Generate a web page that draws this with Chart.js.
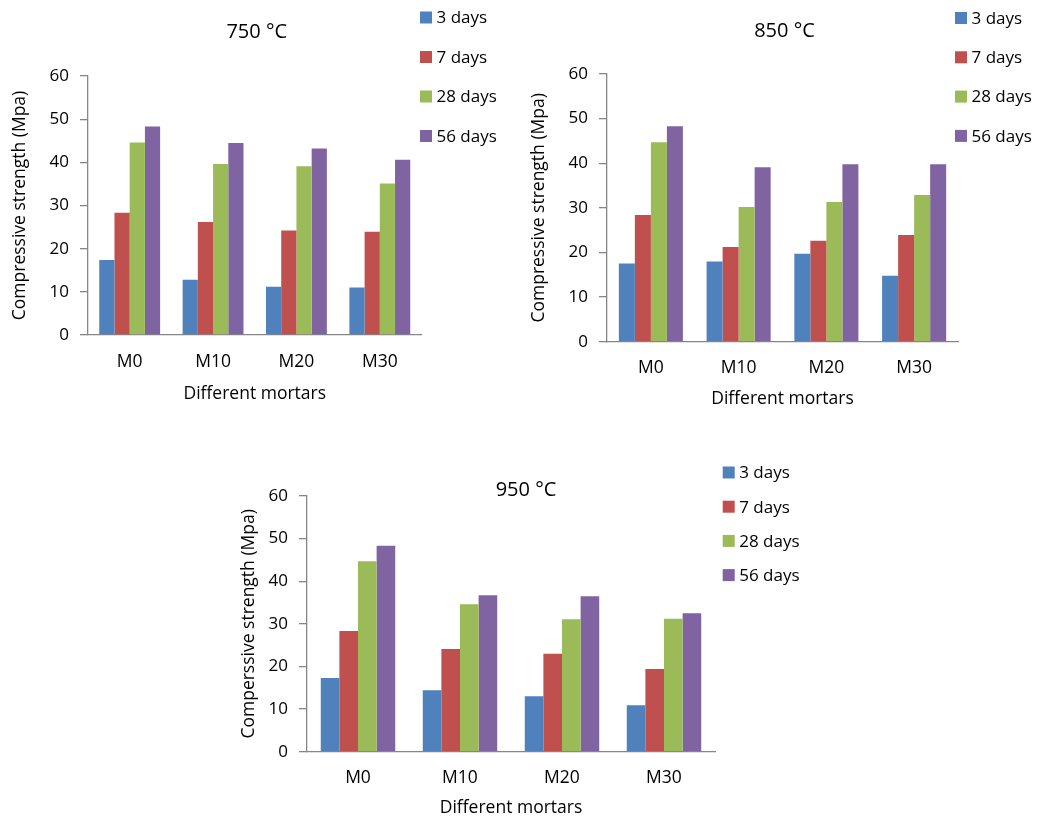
<!DOCTYPE html>
<html>
<head>
<meta charset="utf-8">
<script src="https://cdn.jsdelivr.net/npm/chart.js@4.4.1/dist/chart.umd.min.js"></script>
<style>
  html, body { margin: 0; padding: 0; background: #fff; overflow: hidden; width: 1038px; height: 819px; }
  canvas { position: absolute; }
</style>
</head>
<body>
<canvas id="c750" width="520" height="408" style="left:0px;top:0px;"></canvas>
<canvas id="c850" width="518" height="413" style="left:520px;top:0px;"></canvas>
<canvas id="c950" width="590" height="358" style="left:230px;top:460px;"></canvas>
<script>
// ---- data ----
const categories = ['M0', 'M10', 'M20', 'M30'];
const seriesLabels = ['3 days', '7 days', '28 days', '56 days'];
const seriesColors = ['#4F81BD', '#C0504D', '#9BBB59', '#8064A2'];
const yTickValues = [0, 10, 20, 30, 40, 50, 60];

const t750_3d  = [17.4, 12.8, 11.2, 11.0];
const t750_7d  = [28.3, 26.2, 24.2, 23.9];
const t750_28d = [44.6, 39.6, 39.1, 35.1];
const t750_56d = [48.3, 44.5, 43.2, 40.6];

const t850_3d  = [17.5, 18.0, 19.7, 14.8];
const t850_7d  = [28.4, 21.2, 22.6, 23.9];
const t850_28d = [44.7, 30.2, 31.3, 32.9];
const t850_56d = [48.3, 39.1, 39.8, 39.8];

const t950_3d  = [17.3, 14.4, 13.0, 10.9];
const t950_7d  = [28.3, 24.1, 23.0, 19.4];
const t950_28d = [44.7, 34.6, 31.1, 31.2];
const t950_56d = [48.3, 36.7, 36.5, 32.5];

const titles = ['750 °C', '850 °C', '950 °C'];
const yTitles = ['Compressive strength (Mpa)', 'Compressive strength (Mpa)', 'Comperssive strength (Mpa)'];
const xTitle = 'Different mortars';

// ---- styling / helpers ----
const FONT = "'Open Sans', 'Noto Sans', sans-serif";
const AXIS = '#868686';
const TEXT = '#000000';
const LABEL_SIZE = 17.5;
const TICK_SIZE = 17;
Chart.defaults.font.family = FONT;
Chart.defaults.color = TEXT;

const sideLegend = {
  id: 'sideLegend',
  afterLayout(chart, args, opts) {
    if (opts.titleShift && chart.titleBlock) {
      chart.titleBlock.left += opts.titleShift;
      chart.titleBlock.right += opts.titleShift;
    }
  },
  afterDraw(chart, args, opts) {
    const ctx = chart.ctx;
    ctx.save();
    ctx.font = opts.fontSize + 'px ' + FONT;
    ctx.textBaseline = 'middle';
    ctx.textAlign = 'left';
    chart.data.datasets.forEach((ds, i) => {
      const yc = opts.y + i * opts.gap;
      ctx.fillStyle = ds.backgroundColor;
      ctx.fillRect(opts.x, yc - opts.box / 2, opts.box, opts.box);
      ctx.fillStyle = TEXT;
      ctx.fillText(ds.label, opts.x + opts.textOffset, yc + 1);
    });
    ctx.restore();
  }
};

function makeChart(id, seriesData, cfg) {
  const datasets = seriesData.map((vals, i) => ({
    label: seriesLabels[i],
    data: vals,
    backgroundColor: seriesColors[i],
    borderWidth: 0,
    categoryPercentage: 0.73,
    barPercentage: 1.0
  }));
  return new Chart(document.getElementById(id), {
    type: 'bar',
    data: { labels: categories, datasets },
    plugins: [sideLegend],
    options: {
      responsive: false,
      animation: false,
      layout: { padding: { left: 0, top: 0, bottom: 0, right: cfg.padRight } },
      plugins: {
        legend: { display: false },
        tooltip: { enabled: false },
        title: {
          display: true,
          text: cfg.title,
          fullSize: false,
          color: TEXT,
          font: { size: 20, weight: 'normal', lineHeight: 1.2 },
          padding: { top: cfg.titlePadTop, bottom: cfg.titlePadBottom }
        },
        sideLegend: {
          x: cfg.legX, y: cfg.legY, gap: cfg.legGap, box: 12, textOffset: 16.5, fontSize: 17,
          titleShift: cfg.titleShift
        }
      },
      scales: {
        x: {
          grid: { display: true, drawOnChartArea: false, drawTicks: false },
          border: { display: true, color: AXIS, width: 1.3 },
          ticks: { padding: cfg.xTickPad, color: TEXT, font: { size: LABEL_SIZE } },
          title: { display: true, text: xTitle, color: TEXT, font: { size: LABEL_SIZE, lineHeight: 1.2 }, padding: { top: 0, bottom: cfg.xTitlePadBottom } },
          afterFit: (s) => { s.height = cfg.xHeight; }
        },
        y: {
          min: yTickValues[0],
          max: yTickValues[yTickValues.length - 1],
          afterBuildTicks: (s) => { s.ticks = yTickValues.map(v => ({ value: v })); },
          grid: { display: true, drawOnChartArea: false, drawTicks: true, tickLength: 8, color: AXIS, lineWidth: 1.3 },
          border: { display: true, color: AXIS, width: 1.3 },
          ticks: { padding: 11, color: TEXT, font: { size: TICK_SIZE } },
          title: { display: true, text: cfg.yTitle, color: TEXT, font: { size: LABEL_SIZE, lineHeight: 1.2 }, padding: { top: cfg.yTitlePadTop, bottom: 0 } },
          afterFit: (s) => { s.width = cfg.yWidth; }
        }
      }
    }
  });
}

makeChart('c750', [t750_3d, t750_7d, t750_28d, t750_56d], {
  title: titles[0], yTitle: yTitles[0],
  padRight: 98.5, titlePadTop: 20, titlePadBottom: 32, titleShift: 2,
  yWidth: 88, yTitlePadTop: 9.9, xHeight: 73, xTickPad: 16.4, xTitlePadBottom: 3.4,
  legX: 420, legY: 17.5, legGap: 39.5
});

makeChart('c850', [t850_3d, t850_7d, t850_28d, t850_56d], {
  title: titles[1], yTitle: yTitles[1],
  padRight: 80, titlePadTop: 19.5, titlePadBottom: 30.5, titleShift: 2,
  yWidth: 87, yTitlePadTop: 8.4, xHeight: 71.3, xTickPad: 15.8, xTitlePadBottom: 3.4,
  legX: 435, legY: 18, legGap: 39.3
});

makeChart('c950', [t950_3d, t950_7d, t950_28d, t950_56d], {
  title: titles[2], yTitle: yTitles[2],
  padRight: 105, titlePadTop: 18, titlePadBottom: -6, titleShift: 15,
  yWidth: 77, yTitlePadTop: 8.4, xHeight: 66.3, xTickPad: 15.4, xTitlePadBottom: -0.6,
  legX: 492.7, legY: 12.5, legGap: 34.2
});
</script>
</body>
</html>
